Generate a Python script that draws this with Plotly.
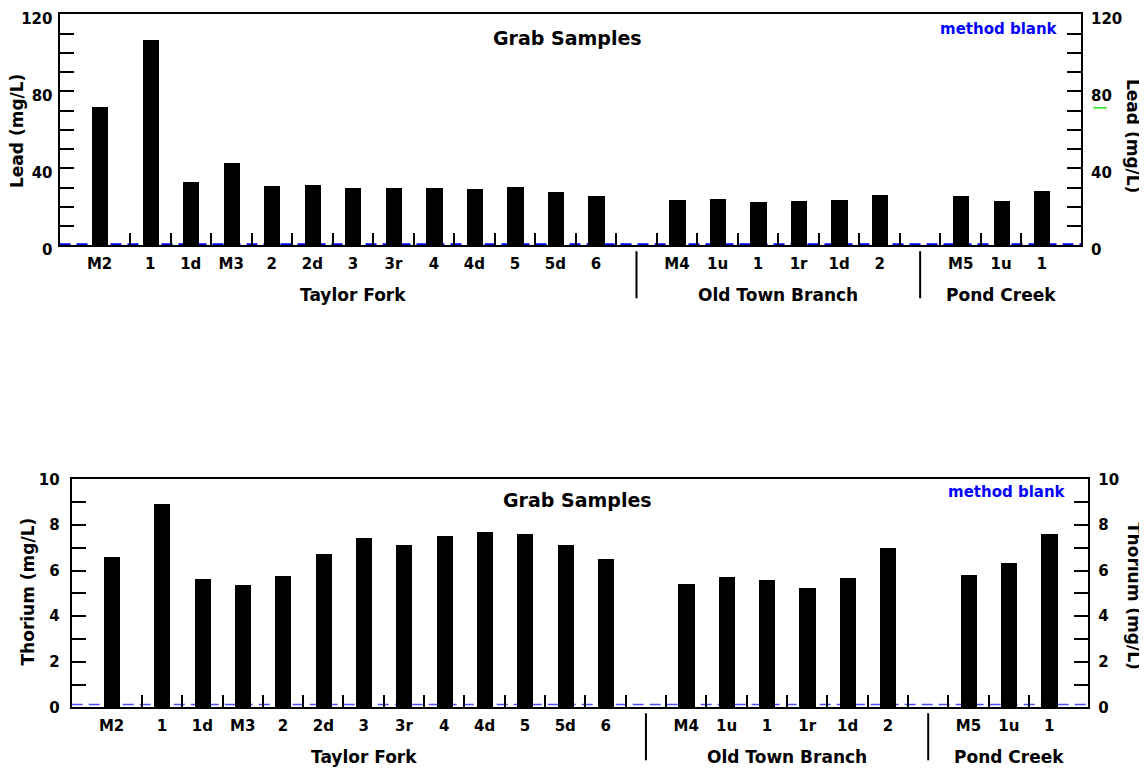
import plotly.graph_objects as go

# page body keeps its default 8px margin, so the figure is offset by that amount
OFF = 8
W, H = 1147 - OFF, 770 - OFF

# ---------------- data ----------------
group_names = ["Taylor Fork", "Old Town Branch", "Pond Creek"]
taylor_labels = ["M2", "1", "1d", "M3", "2", "2d", "3", "3r", "4", "4d", "5", "5d", "6"]
oldtown_labels = ["M4", "1u", "1", "1r", "1d", "2"]
pond_labels = ["M5", "1u", "1"]

lead_taylor = [71.5, 106.3, 32.7, 42.6, 30.4, 31.2, 29.4, 29.4, 29.6, 29.0, 30.2, 27.4, 25.5]
lead_oldtown = [23.4, 23.9, 22.3, 22.9, 23.4, 26.1]
lead_pond = [25.5, 22.8, 27.8]

thorium_taylor = [6.56, 8.89, 5.60, 5.37, 5.75, 6.70, 7.40, 7.12, 7.48, 7.67, 7.58, 7.12, 6.48]
thorium_oldtown = [5.40, 5.70, 5.55, 5.24, 5.65, 6.98]
thorium_pond = [5.80, 6.30, 7.58]

method_blank_lead = 0.6
method_blank_thorium = 0.12

lead_ticks = [0, 40, 80, 120]
thorium_ticks = [0, 2, 4, 6, 8, 10]

# ---------------- layout helpers ----------------
group_labels = [taylor_labels, oldtown_labels, pond_labels]
labels = taylor_labels + oldtown_labels + pond_labels
lead = lead_taylor + lead_oldtown + lead_pond
thorium = thorium_taylor + thorium_oldtown + thorium_pond

xs, group_centers, separators = [], [], []
pos = -0.5
for gi, gl in enumerate(group_labels):
    start = pos
    for _ in gl:
        xs.append(pos)
        pos += 1
    group_centers.append((start + pos - 1) / 2)
    if gi < len(group_labels) - 1:
        separators.append(pos)
    pos += 1
xs[0] -= 0.25  # first sample sits a little left of its slot
slot_ticks = list(range(int(xs[1] - 0.5), int(xs[-1] + 0.5)))
XR = [-1.74, 23.47]


def px(x):
    return (x - OFF) / W


def py(y):
    return 1 - (y - OFF) / H


FONT = "DejaVu Sans"
BOLD = dict(family=FONT, weight="bold", color="black")

fig = go.Figure()
fig.add_bar(x=xs, y=lead, width=0.4, marker=dict(color="black", line=dict(width=0)),
            xaxis="x", yaxis="y", showlegend=False, hoverinfo="skip")
fig.add_scatter(x=xs, y=lead, mode="none", xaxis="x", yaxis="y3", showlegend=False, hoverinfo="skip")
fig.add_bar(x=xs, y=thorium, width=0.4, marker=dict(color="black", line=dict(width=0)),
            xaxis="x2", yaxis="y2", showlegend=False, hoverinfo="skip")
fig.add_scatter(x=xs, y=thorium, mode="none", xaxis="x2", yaxis="y4", showlegend=False, hoverinfo="skip")


def xaxis_cfg(domain, anchor):
    return dict(
        domain=domain, anchor=anchor, range=XR, automargin=False,
        tickmode="array", tickvals=xs, ticktext=labels,
        ticks="", showline=True, linecolor="black", linewidth=2, mirror=True,
        showgrid=False, zeroline=False, ticklabelstandoff=4, ticklabeloverflow="allow",
        tickfont=dict(size=15, **BOLD),
        minor=dict(tickmode="array", tickvals=slot_ticks, ticks="inside",
                   ticklen=12, tickwidth=1.5, tickcolor="black", showgrid=False),
    )


def yaxis_cfg(domain, anchor, rng, ticks, dminor, side="left", overlay=None, standoff=4, shift=0):
    d = dict(
        domain=domain, anchor=anchor, range=rng, side=side, automargin=False,
        tickmode="array", tickvals=ticks, ticks="inside", ticklen=14, tickwidth=1.5,
        tickcolor="black", showline=True, linecolor="black", linewidth=2,
        showgrid=False, zeroline=False, ticklabelstandoff=standoff, ticklabelshift=shift,
        ticklabeloverflow="allow",
        tickfont=dict(size=15, **BOLD),
        minor=dict(tick0=0, dtick=dminor, ticks="inside", ticklen=14, tickwidth=1.5,
                   tickcolor="black", showgrid=False),
    )
    if overlay:
        d["overlaying"] = overlay
    return d


top_dom_y = [py(245.3), py(14.3)]
bot_dom_y = [py(707.3), py(479.3)]
top_dom_x = [px(59.5), px(1081)]
bot_dom_x = [px(71.7), px(1088.3)]

fig.update_layout(
    width=W, height=H, margin=dict(l=0, r=0, t=0, b=0, autoexpand=False),
    paper_bgcolor="white", plot_bgcolor="white", showlegend=False, bargap=0,
    xaxis=xaxis_cfg(top_dom_x, "y"),
    xaxis2=xaxis_cfg(bot_dom_x, "y2"),
    yaxis=yaxis_cfg(top_dom_y, "x", [0, 120], lead_ticks, 10, standoff=2, shift=4),
    yaxis3=yaxis_cfg(top_dom_y, "x", [0, 120], lead_ticks, 10, side="right", overlay="y",
                     standoff=5, shift=4),
    yaxis2=yaxis_cfg(bot_dom_y, "x2", [0, 10], thorium_ticks, 1, standoff=7),
    yaxis4=yaxis_cfg(bot_dom_y, "x2", [0, 10], thorium_ticks, 1, side="right", overlay="y2", standoff=5),
)

shapes = []
# method blank lines and group separators
for xr, yr, val, col, w in [("x", "y", method_blank_lead, "#0000ff", 2),
                            ("x2", "y2", method_blank_thorium, "#5050ff", 1.5)]:
    shapes.append(dict(type="line", xref=f"{xr} domain", yref=yr, x0=0, x1=1, y0=val, y1=val,
                       line=dict(color=col, width=w, dash="11px,6px"), layer="below"))
    for s in separators:
        shapes.append(dict(type="line", xref=xr, yref=f"{yr} domain", ysizemode="pixel", yanchor=0,
                           x0=s, x1=s, y0=-6, y1=-53, line=dict(color="black", width=2)))
# green marker at right of top panel
shapes.append(dict(type="line", xref="x domain", yref="y", x0=1.0118, x1=1.0255,
                   y0=lead[0], y1=lead[0], line=dict(color="#22ee22", width=1.5)))
fig.update_layout(shapes=shapes)

ann = []
C = dict(xanchor="center", yanchor="middle", showarrow=False)
# titles
ann.append(dict(text="Grab Samples", x=px(567), y=py(38), xref="paper", yref="paper",
                font=dict(size=19, **BOLD), **C))
ann.append(dict(text="Grab Samples", x=px(577), y=py(500), xref="paper", yref="paper",
                font=dict(size=19, **BOLD), **C))
# method blank legends
ann.append(dict(text="method blank", x=px(1060), y=py(29), xref="paper", yref="paper",
                xanchor="right", yanchor="middle", showarrow=False,
                font=dict(size=15, family=FONT, weight="bold", color="#0000ff")))
ann.append(dict(text="method blank", x=px(1068), y=py(492), xref="paper", yref="paper",
                xanchor="right", yanchor="middle", showarrow=False,
                font=dict(size=15, family=FONT, weight="bold", color="#0000ff")))
# y titles
for t, x, y, ang in [("Lead (mg/L)", 17, 131, -90), ("Lead (mg/L)", 1133, 136, 90),
                     ("Thorium (mg/L)", 27.5, 592, -90), ("Thorium (mg/L)", 1134, 596, 90)]:
    ann.append(dict(text=t, x=px(x), y=py(y), xref="paper", yref="paper", textangle=ang,
                    font=dict(size=17, **BOLD), **C))
# group labels
for xr, yr in [("x", "y"), ("x2", "y2")]:
    for name, c in zip(group_names, group_centers):
        ann.append(dict(text=name, x=c, xref=xr, y=0, yref=f"{yr} domain", yshift=-50,
                        font=dict(size=17, **BOLD), **C))
fig.update_layout(annotations=ann)

fig.write_html("out.html")
